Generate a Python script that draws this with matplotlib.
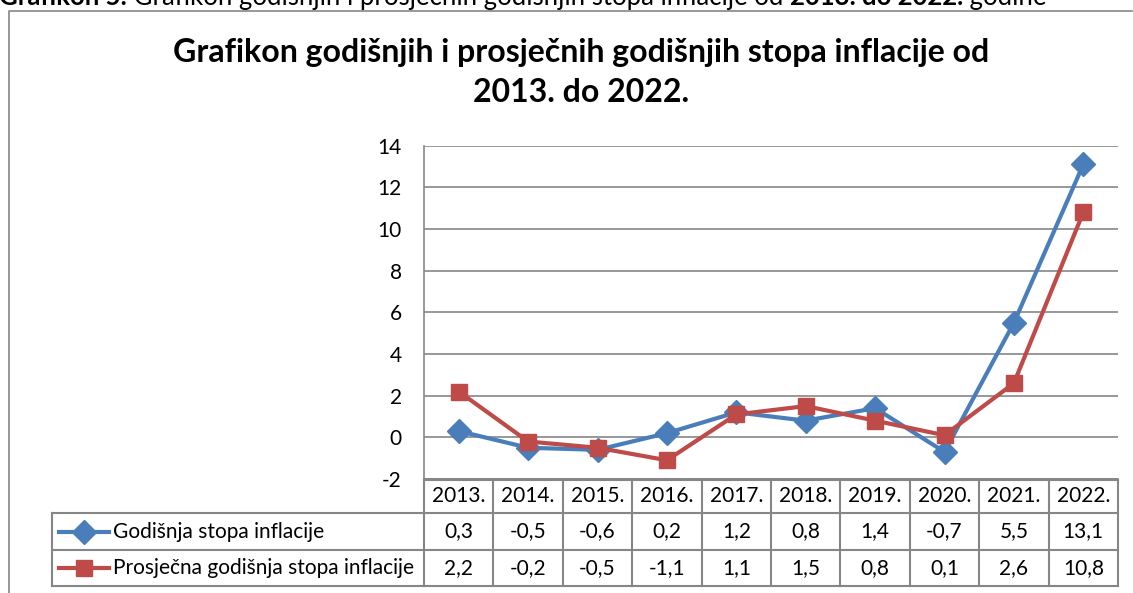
import numpy as np
import matplotlib
matplotlib.use("Agg")
import matplotlib.pyplot as plt
from matplotlib.lines import Line2D

plt.rcParams['font.family'] = ['Lato', 'DejaVu Sans']
plt.rcParams['axes.unicode_minus'] = False

years = ["2013.", "2014.", "2015.", "2016.", "2017.", "2018.", "2019.", "2020.", "2021.", "2022."]
godisnja = [0.3, -0.5, -0.6, 0.2, 1.2, 0.8, 1.4, -0.7, 5.5, 13.1]
prosjecna = [2.2, -0.2, -0.5, -1.1, 1.1, 1.5, 0.8, 0.1, 2.6, 10.8]
series_names = ["Godišnja stopa inflacije", "Prosječna godišnja stopa inflacije"]
title_lines = ["Grafikon godišnjih i prosječnih godišnjih stopa inflacije od", "2013. do 2022."]
caption_parts = [("Grafikon 5.", "bold"),
                 (" Grafikon godišnjih i prosječnih godišnjih stopa inflacije od ", "normal"),
                 ("2013. do 2022.", "bold"),
                 (" godine", "normal")]

BLUE = "#4A7EBB"
RED = "#BE4B48"
GRID = "#868686"
FS = 15

W, H = 1133, 593
fig = plt.figure(figsize=(W / 100, H / 100), dpi=100)


def fx(x):
    return x / W


def fy(y):
    return 1 - y / H


# outer chart frame
fig.add_artist(Line2D([fx(9), fx(9), fx(1132)], [fy(593), fy(11), fy(11)],
                      transform=fig.transFigure, color=GRID, lw=1.2))

# caption, cut off at the top edge like the source
fig.canvas.draw()
xpos = -1
for txt, wt in caption_parts:
    t = fig.text(fx(xpos), fy(5), txt, fontsize=18.5, fontweight=wt, ha="left", va="baseline")
    xpos = t.get_window_extent(fig.canvas.get_renderer()).x1

for i, line in enumerate(title_lines):
    fig.text(fx(581), fy(62 + 40 * i), line, fontsize=23, fontweight="bold",
             ha="center", va="baseline")

# plot area
x0, x1 = 424, 1118
ytop, ybot = 145.7, 479
ax = fig.add_axes([fx(x0), fy(ybot), (x1 - x0) / W, (ybot - ytop) / H])
x = np.arange(len(years))
ax.plot(x, godisnja, color=BLUE, lw=3, marker="D", ms=12, zorder=3)
ax.plot(x, prosjecna, color=RED, lw=3, marker="s", ms=12, zorder=4)
ax.set_xlim(-0.5, len(years) - 0.5)
ax.set_ylim(-2, 14)
ax.set_yticks(range(-2, 15, 2))
ax.set_xticks([])
ax.grid(axis="y", color=GRID, lw=1.2)
ax.set_axisbelow(True)
for s in ["top", "right"]:
    ax.spines[s].set_visible(False)
for s in ["left", "bottom"]:
    ax.spines[s].set_color(GRID)
    ax.spines[s].set_linewidth(1.2)
ax.tick_params(axis="y", length=0, pad=16, labelsize=FS)

# data table under the axis
colw = (x1 - x0) / len(years)
rows = [480, 513, 550, 586]
lines = [
    ([x0, x1], [rows[0], rows[0]]),
    ([52, x1], [rows[1], rows[1]]),
    ([52, x1], [rows[2], rows[2]]),
    ([52, x1], [rows[3], rows[3]]),
    ([52, 52], [rows[1], rows[3]]),
]
for k in range(len(years) + 1):
    lines.append(([x0 + k * colw] * 2, [rows[0], rows[3]]))
for xs, ys in lines:
    fig.add_artist(Line2D([fx(v) for v in xs], [fy(v) for v in ys], transform=fig.transFigure,
                          color=GRID, lw=1.5))

for i, yr in enumerate(years):
    cx = x0 + (i + 0.5) * colw
    fig.text(fx(cx), fy((rows[0] + rows[1]) / 2), yr, fontsize=FS, ha="center", va="center")
    for r, vals in enumerate([godisnja, prosjecna]):
        lab = f"{vals[i]:.1f}".replace(".", ",")
        fig.text(fx(cx), fy((rows[r + 1] + rows[r + 2]) / 2), lab, fontsize=FS,
                 ha="center", va="center")

for r, (name, col, mk, ms) in enumerate(zip(series_names, [BLUE, RED], ["D", "s"], [12, 12])):
    yc = (rows[r + 1] + rows[r + 2]) / 2
    fig.add_artist(Line2D([fx(59), fx(109)], [fy(yc), fy(yc)], transform=fig.transFigure,
                          color=col, lw=3))
    fig.add_artist(Line2D([fx(84)], [fy(yc)], transform=fig.transFigure, color=col,
                          marker=mk, ms=ms, lw=0))
    fig.text(fx(113), fy(yc), name, fontsize=FS, ha="left", va="center")

fig.savefig("out.png", dpi=100)
